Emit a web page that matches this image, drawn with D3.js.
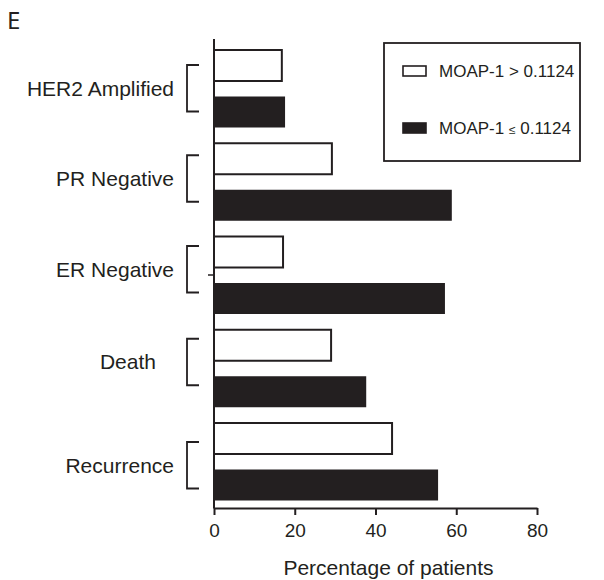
<!DOCTYPE html>
<html>
<head>
<meta charset="utf-8">
<script src="https://cdn.jsdelivr.net/npm/d3@7"></script>
<style>
  body { margin: 0; background: #fff; }
  text { font-family: "Liberation Sans", Arial, sans-serif; fill: #231f20; }
</style>
</head>
<body>
<svg id="chart" width="604" height="580"></svg>
<script>
const categories = ["HER2 Amplified", "PR Negative", "ER Negative", "Death", "Recurrence"];
const seriesNames = ["MOAP-1 > 0.1124", "MOAP-1 \u2264 0.1124"];
const highValues = [16.8, 29.2, 17.1, 29.0, 44.1];
const lowValues  = [17.6, 58.9, 57.2, 37.7, 55.5];
const xTicks = [0, 20, 40, 60, 80];
const xTitle = "Percentage of patients";
const panelLabel = "E";

// layout nudges for the hand-drawn brackets / labels (pixels)
const bracketNudge = [-0.5, -3.5, -6, -6.5, 3.5];

const ink = "#231f20";
const svg = d3.select("#chart");

const x = d3.scaleLinear().domain([0, 80]).range([214, 537]);
const y = d3.scaleBand().domain(categories).range([50, 516.25]).paddingInner(0).paddingOuter(0);
const ySub = d3.scaleBand().domain(["high", "low"]).range([0, 77.5]).paddingInner(1/3).paddingOuter(0);

const rows = categories.map((c, i) => ({cat: c, high: highValues[i], low: lowValues[i], nudge: bracketNudge[i]}));

// bars
const g = svg.append("g");
rows.forEach(r => {
  g.append("rect")
    .attr("x", x(0)).attr("y", y(r.cat) + ySub("high"))
    .attr("width", x(r.high) - x(0)).attr("height", ySub.bandwidth())
    .attr("fill", "#fff").attr("stroke", ink).attr("stroke-width", 2);
  g.append("rect")
    .attr("x", x(0)).attr("y", y(r.cat) + ySub("low"))
    .attr("width", x(r.low) - x(0)).attr("height", ySub.bandwidth())
    .attr("fill", ink);
});

// y axis line
svg.append("line").attr("x1", x(0)).attr("x2", x(0)).attr("y1", 39).attr("y2", 508.5)
  .attr("stroke", ink).attr("stroke-width", 2);
// stray tick near ER Negative
svg.append("line").attr("x1", x(0) - 6).attr("x2", x(0))
  .attr("y1", y("ER Negative") + 38.5).attr("y2", y("ER Negative") + 38.5)
  .attr("stroke", ink).attr("stroke-width", 1.5);

// x axis
const xAxis = d3.axisBottom(x).tickValues(xTicks).tickSize(7).tickPadding(9).tickSizeOuter(0);
const xa = svg.append("g").attr("transform", "translate(0,508)").call(xAxis);
xa.select(".domain").attr("stroke", ink).attr("stroke-width", 2);
xa.selectAll(".tick line").attr("stroke", ink).attr("stroke-width", 2);
xa.selectAll(".tick text").attr("font-size", 19).attr("fill", ink)
  .attr("font-family", "Liberation Sans, Arial, sans-serif");

svg.append("text").attr("x", (x(0) + x(80)) / 2 + 13).attr("y", 575)
  .attr("text-anchor", "middle").attr("font-size", 21).text(xTitle);

// brackets and labels
rows.forEach(r => {
  const yTop = y(r.cat) + ySub("high") + ySub.bandwidth() / 2 + r.nudge;
  const yBot = y(r.cat) + ySub("low") + ySub.bandwidth() / 2 + r.nudge;
  svg.append("path")
    .attr("d", `M199,${yTop}H187V${yBot}H199`)
    .attr("fill", "none").attr("stroke", ink).attr("stroke-width", 1.8);
  const xEnd = r.cat === "Death" ? 156 : 174;
  svg.append("text").attr("x", xEnd).attr("y", (yTop + yBot) / 2)
    .attr("dy", "0.35em").attr("text-anchor", "end").attr("font-size", 21).text(r.cat);
});

// legend
svg.append("rect").attr("x", 384).attr("y", 43).attr("width", 196).attr("height", 118)
  .attr("fill", "#fff").attr("stroke", ink).attr("stroke-width", 1.8);
const leg = [
  {name: seriesNames[0], fill: "#fff", yc: 71},
  {name: seriesNames[1], fill: ink, yc: 128}
];
leg.forEach((l, i) => {
  svg.append("rect").attr("x", 403).attr("y", l.yc - 5).attr("width", 23).attr("height", 10)
    .attr("fill", l.fill).attr("stroke", ink).attr("stroke-width", 1.6);
  const t = svg.append("text").attr("x", 439).attr("y", l.yc + 6).attr("font-size", 17);
  if (i === 0) {
    t.text(l.name);
  } else {
    t.append("tspan").text("MOAP-1 ");
    t.append("tspan").attr("font-size", 12).text("\u2264");
    t.append("tspan").text(" 0.1124");
  }
});

// panel label
svg.append("text").attr("x", 7).attr("y", 29).attr("font-size", 24)
  .style("font-family", "'Noto Sans', sans-serif").text(panelLabel);
</script>
</body>
</html>
